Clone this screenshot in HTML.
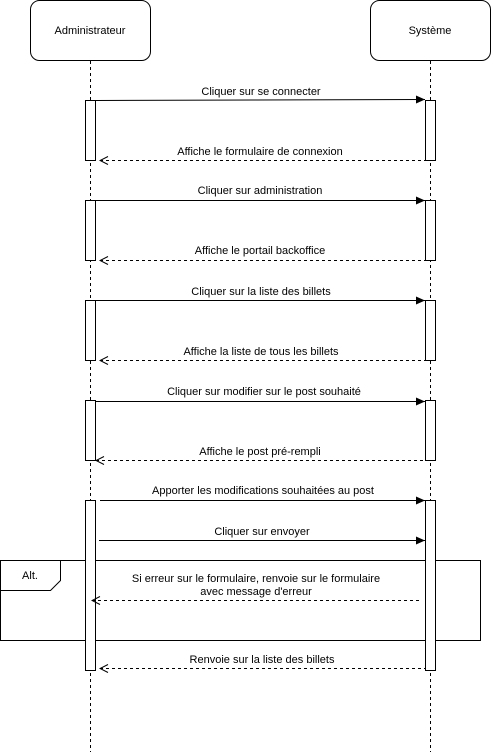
<!DOCTYPE html>
<html><head><meta charset="utf-8"><style>
html,body{margin:0;padding:0;background:#fff;width:491px;height:752px;overflow:hidden}
svg{display:block}
text{font-family:"Liberation Sans",Arial,sans-serif;font-size:11px;fill:#000}
</style></head><body>
<svg width="491" height="752" viewBox="0 0 491 752">
<defs>
<marker id="f" markerWidth="10" markerHeight="8" refX="9" refY="4" orient="auto" markerUnits="userSpaceOnUse"><path d="M0,0 L9,4 L0,8 Z" fill="#000"/></marker>
<marker id="o" markerWidth="10" markerHeight="10" refX="1" refY="5" orient="auto" markerUnits="userSpaceOnUse"><path d="M9,1 L1,5 L9,9" fill="none" stroke="#000"/></marker>
</defs>
<g stroke="#000" fill="none">
<rect x="30.5" y="0.5" width="120" height="60" rx="9" fill="#fff"/>
<rect x="370.5" y="0.5" width="120" height="60" rx="9" fill="#fff"/>
<line x1="90.5" y1="61" x2="90.5" y2="752" stroke-dasharray="3,3"/>
<line x1="430.5" y1="61" x2="430.5" y2="752" stroke-dasharray="3,3"/>
<rect x="0.5" y="560.5" width="480" height="80" fill="none"/>
<path d="M0.5,590.5 L50.5,590.5 L60.5,580.5 L60.5,560.5"/>
</g>
<g stroke="#000" fill="#fff">
<rect x="85.5" y="100.5" width="10" height="60"/><rect x="425.5" y="100.5" width="10" height="60"/>
<rect x="85.5" y="200.5" width="10" height="60"/><rect x="425.5" y="200.5" width="10" height="60"/>
<rect x="85.5" y="300.5" width="10" height="60"/><rect x="425.5" y="300.5" width="10" height="60"/>
<rect x="85.5" y="400.5" width="10" height="60"/><rect x="425.5" y="400.5" width="10" height="60"/>
<rect x="85.5" y="500.5" width="10" height="170"/><rect x="425.5" y="500.5" width="10" height="170"/>
</g>
<g stroke="#000" fill="none">
<line x1="96" y1="100.5" x2="425" y2="99.5" marker-end="url(#f)"/>
<line x1="100" y1="160.5" x2="425" y2="160.5" stroke-dasharray="3,3" marker-start="url(#o)"/>
<line x1="96" y1="200.5" x2="425" y2="200.5" marker-end="url(#f)"/>
<line x1="100" y1="260.5" x2="425" y2="260.5" stroke-dasharray="3,3" marker-start="url(#o)"/>
<line x1="96" y1="300.5" x2="425" y2="300.5" marker-end="url(#f)"/>
<line x1="100" y1="360.5" x2="425" y2="360.5" stroke-dasharray="3,3" marker-start="url(#o)"/>
<line x1="96" y1="401.5" x2="425" y2="401.5" marker-end="url(#f)"/>
<line x1="96" y1="460.5" x2="425" y2="460.5" stroke-dasharray="3,3" marker-start="url(#o)"/>
<line x1="100" y1="500.5" x2="425" y2="500.5" marker-end="url(#f)"/>
<line x1="99" y1="540.5" x2="425" y2="540.5" marker-end="url(#f)"/>
<line x1="92" y1="600.5" x2="421" y2="600.5" stroke-dasharray="3,3" marker-start="url(#o)"/>
<line x1="100" y1="668.5" x2="425" y2="668.5" stroke-dasharray="3,3" marker-start="url(#o)"/>
</g>
<g text-anchor="middle">
<text x="90" y="34">Administrateur</text>
<text x="430" y="34">Système</text>
<text x="261" y="95">Cliquer sur se connecter</text>
<text x="260" y="155">Affiche le formulaire de connexion</text>
<text x="260" y="194">Cliquer sur administration</text>
<text x="260" y="254">Affiche le portail backoffice</text>
<text x="261" y="295">Cliquer sur la liste des billets</text>
<text x="261" y="355">Affiche la liste de tous les billets</text>
<text x="264" y="395">Cliquer sur modifier sur le post souhaité</text>
<text x="260" y="455">Affiche le post pré-rempli</text>
<text x="263" y="494">Apporter les modifications souhaitées au post</text>
<text x="262" y="535">Cliquer sur envoyer</text>
<text x="256" y="582">Si erreur sur le formulaire, renvoie sur le formulaire</text>
<text x="256" y="595">avec message d'erreur</text>
<text x="262" y="663">Renvoie sur la liste des billets</text>
<text x="30" y="579">Alt.</text>
</g>
</svg>
</body></html>
